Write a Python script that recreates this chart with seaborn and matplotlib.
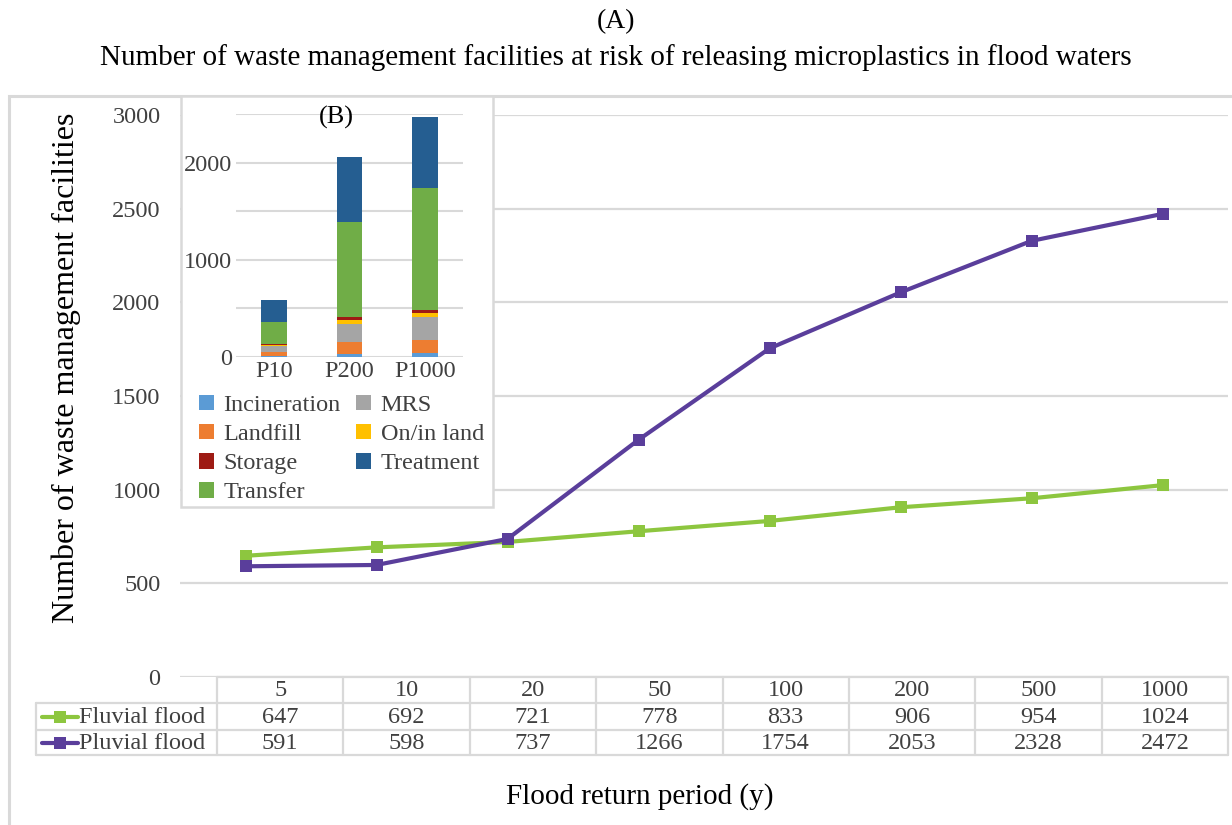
import numpy as np
import pandas as pd
import matplotlib
matplotlib.use("Agg")
import matplotlib.pyplot as plt
from matplotlib.lines import Line2D
from matplotlib.patches import Rectangle
import seaborn as sns

# ---- data -------------------------------------------------------------
return_periods = ["5", "10", "20", "50", "100", "200", "500", "1000"]
fluvial = [647, 692, 721, 778, 833, 906, 954, 1024]
pluvial = [591, 598, 737, 1266, 1754, 2053, 2328, 2472]

inset_periods = ["P10", "P200", "P1000"]
incineration = [10, 31, 41]
landfill = [41, 127, 134]
mrs = [58, 182, 236]
on_in_land = [17, 41, 41]
storage = [10, 27, 27]
transfer = [226, 979, 1264]
treatment = [229, 666, 729]

# ---- style ------------------------------------------------------------
sns.set_theme(style="white")
plt.rcParams["font.family"] = ["Liberation Serif", "DejaVu Serif"]
plt.rcParams["text.color"] = "#404040"

W, H = 1232, 825
fig = plt.figure(figsize=(W / 100, H / 100), dpi=100)


def fx(x):
    return x / W


def fy(y):
    return 1 - y / H


GRID = "#D9D9D9"
TXT = "#404040"
GREEN = "#8DC63F"
PURPLE = "#5A3E9B"
FS = 17.5

# outer chart frame
fig.patches.append(Rectangle((fx(9), fy(900)), 2, fy(96) - fy(900),
                             transform=fig.transFigure, fill=False,
                             edgecolor=GRID, linewidth=2.2, zorder=0))

# titles
fig.text(0.5, fy(22), "(A)", ha="center", va="center", fontsize=20, color="black")
fig.text(0.5, fy(58), "Number of waste management facilities at risk of releasing "
         "microplastics in flood waters", ha="center", va="center",
         fontsize=21, color="black")

# ---- main line chart ----------------------------------------------------
ax = fig.add_axes([fx(180), fy(677), fx(1228) - fx(180), fy(115) - fy(677)])
xpos = np.arange(len(return_periods))
df = pd.DataFrame({
    "x": np.concatenate([xpos, xpos]),
    "value": fluvial + pluvial,
    "series": ["Fluvial flood"] * len(xpos) + ["Pluvial flood"] * len(xpos),
})
sns.lineplot(data=df, x="x", y="value", hue="series", style="series",
             palette={"Fluvial flood": GREEN, "Pluvial flood": PURPLE},
             markers={"Fluvial flood": "s", "Pluvial flood": "s"},
             dashes=False, linewidth=3.0, markersize=9, markeredgewidth=0,
             legend=False, ax=ax, zorder=3)
ax.set_xlim(-0.5, len(xpos) - 0.5)
ax.set_ylim(0, 3000)
ax.set_yticks(np.arange(0, 3001, 500))
ax.set_yticklabels([str(v) for v in range(0, 3001, 500)], fontsize=FS, color=TXT)
ax.set_xticks([])
ax.set_xlabel("")
ax.set_ylabel("")
ax.grid(axis="y", color=GRID, linewidth=1.6)
ax.set_axisbelow(True)
for s in ax.spines.values():
    s.set_visible(False)
ax.tick_params(axis="y", length=0, pad=14)

fig.text(fx(66), fy(368), "Number of waste management facilities", rotation=90,
         ha="center", va="center", fontsize=23, color="black")
fig.text(fx(640), fy(797), "Flood return period (y)", ha="center", va="center",
         fontsize=21, color="black")

# ---- data table under the axis -----------------------------------------
t_left, t_right = 217, 1228
row_y = [677, 703, 730, 755]
ncol = len(return_periods)
col_w = (t_right - t_left) / ncol
col_edges = [t_left + i * col_w for i in range(ncol + 1)]


def hline(x0, x1, y):
    fig.add_artist(Line2D([fx(x0), fx(x1)], [fy(y), fy(y)], color=GRID, lw=1.6))


def vline(x, y0, y1):
    fig.add_artist(Line2D([fx(x), fx(x)], [fy(y0), fy(y1)], color=GRID, lw=1.6))


hline(t_left, t_right, row_y[0])
for y in row_y[1:]:
    hline(36, t_right, y)
for x in col_edges:
    vline(x, row_y[0], row_y[3])
vline(36, row_y[1], row_y[3])

rows = [return_periods, [str(v) for v in fluvial], [str(v) for v in pluvial]]
for r, vals in enumerate(rows):
    yc = (row_y[r] + row_y[r + 1]) / 2 + 1
    for c, v in enumerate(vals):
        fig.text(fx(col_edges[c] + col_w / 2), fy(yc), v, ha="center",
                 va="center", fontsize=FS, color=TXT)

for r, (name, col) in enumerate([("Fluvial flood", GREEN), ("Pluvial flood", PURPLE)]):
    yc = (row_y[r + 1] + row_y[r + 2]) / 2
    fig.add_artist(Line2D([fx(42), fx(78)], [fy(yc), fy(yc)], color=col, lw=3.0))
    fig.add_artist(Line2D([fx(60)], [fy(yc)], color=col, marker="s",
                          markersize=9, markeredgewidth=0))
    fig.text(fx(79), fy(yc + 1), name, ha="left", va="center", fontsize=FS,
             color=TXT)

# ---- inset stacked bars -------------------------------------------------
fig.patches.append(Rectangle((fx(181), fy(507)), fx(493) - fx(181), fy(96) - fy(507),
                             transform=fig.transFigure, facecolor="white",
                             edgecolor=GRID, linewidth=1.8, zorder=5))

axi = fig.add_axes([fx(236), fy(357), fx(463) - fx(236), fy(114) - fy(357)], zorder=6)
axi.patch.set_alpha(0)
layers = [
    ("Incineration", incineration, "#5B9BD5"),
    ("Landfill", landfill, "#ED7D31"),
    ("MRS", mrs, "#A5A5A5"),
    ("On/in land", on_in_land, "#FFC000"),
    ("Storage", storage, "#9E1B14"),
    ("Transfer", transfer, "#70AD47"),
    ("Treatment", treatment, "#255E91"),
]
ipos = np.arange(len(inset_periods))
bottom = np.zeros(len(ipos))
handles = {}
for name, vals, col in layers:
    h = axi.bar(ipos, vals, width=0.34, bottom=bottom, color=col,
                edgecolor="none", zorder=3, label=name)
    handles[name] = h
    bottom += np.array(vals)
axi.set_xlim(-0.5, len(ipos) - 0.5)
axi.set_ylim(0, 2500)
axi.set_yticks(np.arange(0, 2501, 500), minor=False)
axi.set_yticklabels(["0", "", "1000", "", "2000", ""], fontsize=FS, color=TXT)
axi.set_xticks(ipos)
axi.set_xticklabels(inset_periods, fontsize=FS, color=TXT)
axi.grid(axis="y", color=GRID, linewidth=1.5)
axi.set_axisbelow(True)
for s in axi.spines.values():
    s.set_visible(False)
axi.tick_params(length=0, pad=3)
axi.tick_params(axis="y", pad=3)
axi.text(0.44, 0.985, "(B)", transform=axi.transAxes, ha="center", va="center",
         fontsize=19, color="black")

order = ["Incineration", "Landfill", "Storage", "Transfer", "MRS", "On/in land",
         "Treatment"]
leg = fig.legend([handles[n] for n in order], order, ncol=2,
                 loc="upper left", bbox_to_anchor=(fx(199), fy(395)),
                 frameon=False, fontsize=17.5, handlelength=0.6, handleheight=0.6,
                 handletextpad=0.4, columnspacing=0.65, labelspacing=0.32,
                 borderaxespad=0, borderpad=0)
leg.set_zorder(7)
for t in leg.get_texts():
    t.set_color(TXT)

fig.savefig("out.png", dpi=100)
